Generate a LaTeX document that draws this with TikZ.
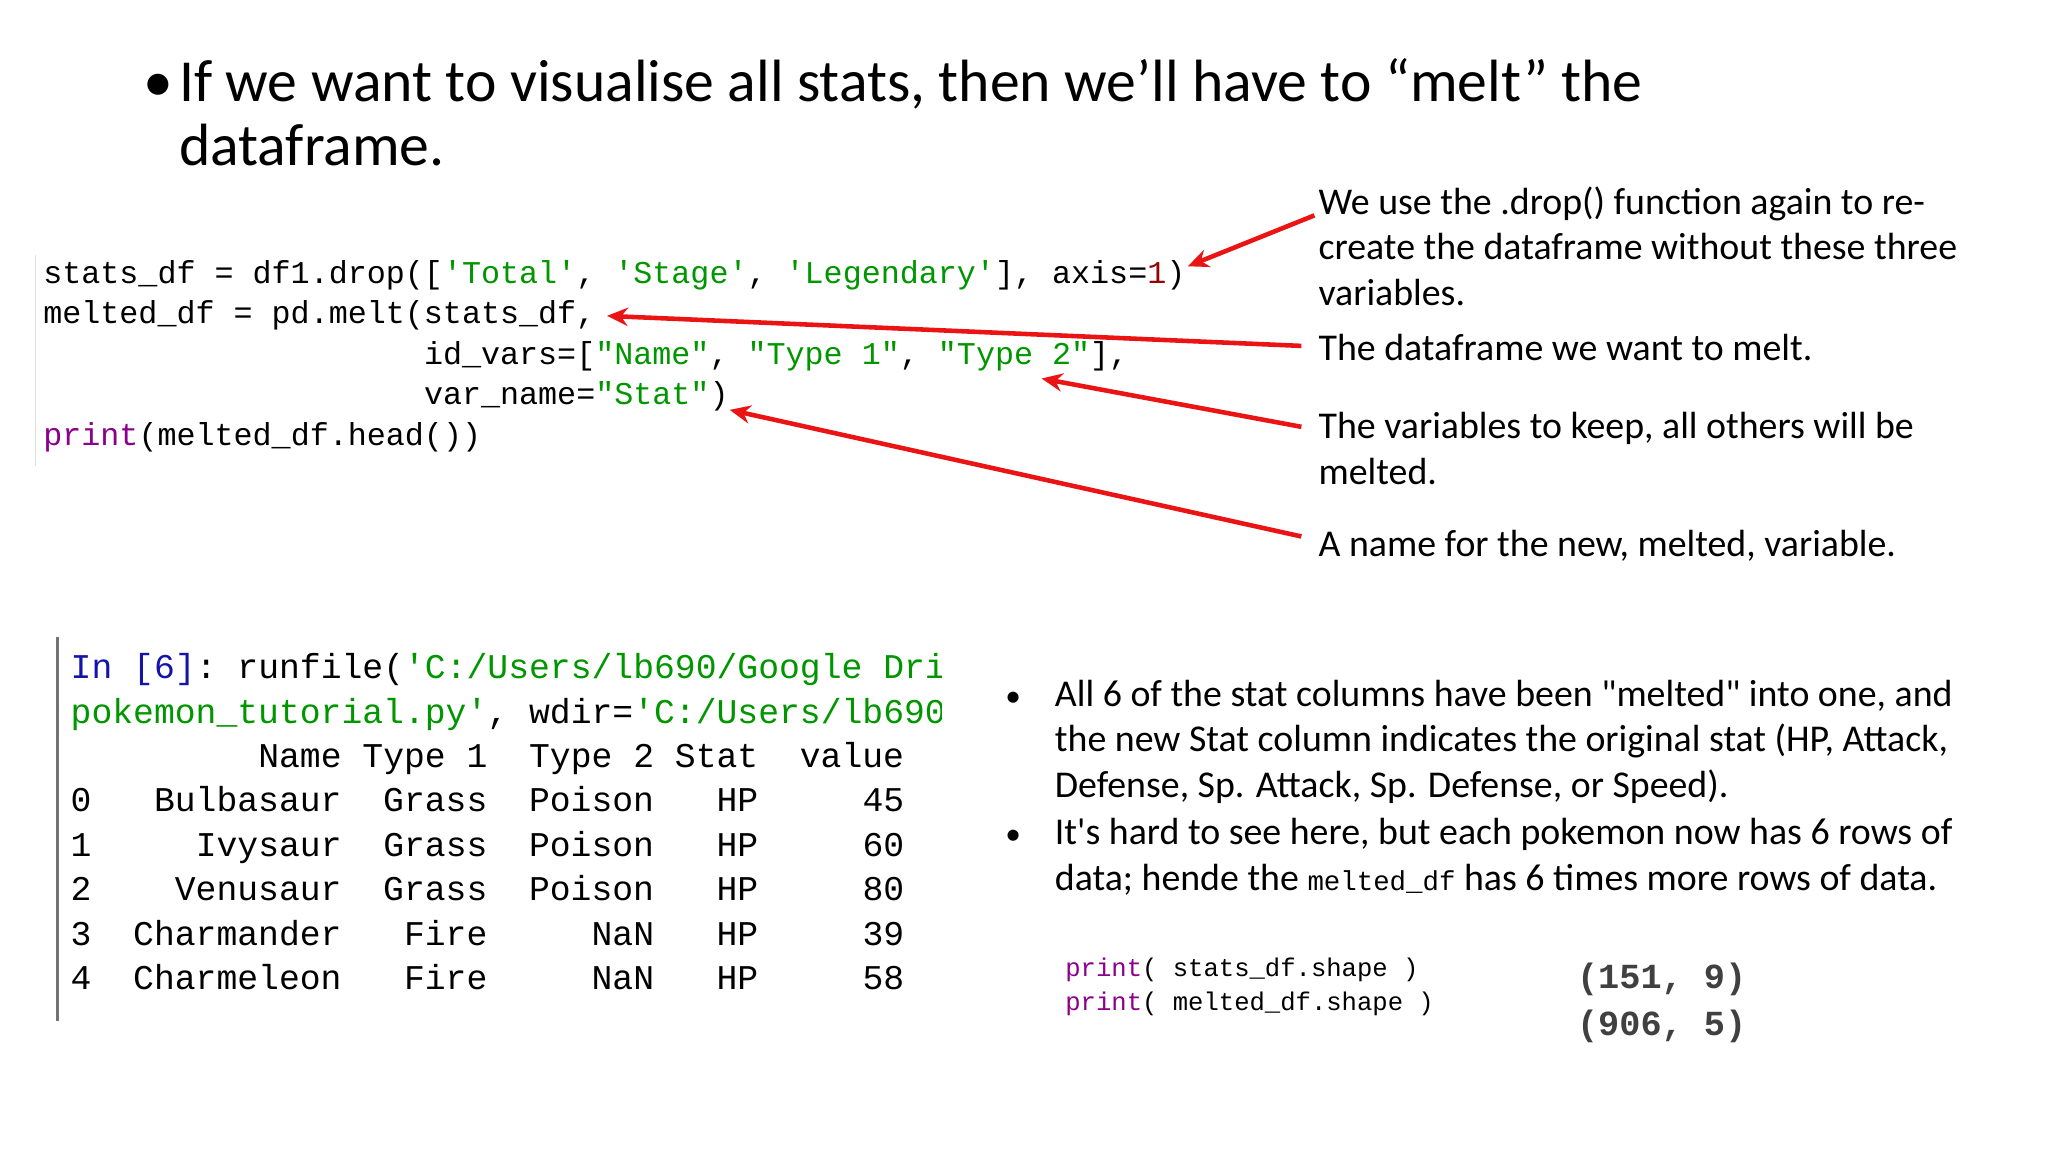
\documentclass[tikz,border=0pt]{standalone}
\usepackage{fontspec}
\setmainfont{Carlito}[Ligatures=TeXOff]
\setmonofont{Liberation Mono}
\usetikzlibrary{arrows.meta, positioning}
\definecolor{codegreen}{RGB}{0,150,0}
\definecolor{codepurple}{RGB}{140,0,140}
\definecolor{codered}{RGB}{150,0,0}
\definecolor{codeblue}{RGB}{20,20,170}
\definecolor{arrowred}{RGB}{235,20,20}
\newcommand{\gs}[1]{\textcolor{codegreen}{#1}}
\newcommand{\ps}[1]{\textcolor{codepurple}{#1}}
\begin{document}
\begin{tikzpicture}[
    x=1pt, y=-1pt,
    txt/.style = {anchor=base west, inner sep=0pt, font=\fontsize{29}{33}\selectfont},
    code/.style = {anchor=base west, inner sep=0pt, font=\ttfamily\fontsize{24.3}{28}\selectfont},
    tab/.style = {anchor=base west, inner sep=0pt, font=\ttfamily\fontsize{26.6}{30}\selectfont},
    pcode/.style = {anchor=base west, inner sep=0pt, font=\ttfamily\fontsize{19.6}{24}\selectfont},
    pil/.style = {arrowred, line width=3.5pt, -{Stealth[length=16pt, width=14pt]}}
    ]
  \useasboundingbox (0,0) rectangle (1569,883);

  % title
  \node[txt, font=\fontsize{45.7}{50}\selectfont] (dot) at (110,78) {\textbullet};
  \node[txt, font=\fontsize{45.7}{50}\selectfont] (title1) at (137,78) {If we want to visualise all stats, then we’ll have to “melt” the};
  \node[txt, font=\fontsize{45.7}{50}\selectfont] (title2) at (137,127) {dataframe.};

  % code
  \draw[black!12, line width=1pt] (27,195) -- (27,357);
  \node[code] (line1) at (33,217) {stats\_df = df1.drop([\gs{'Total'}, \gs{'Stage'}, \gs{'Legendary'}], axis=\textcolor{codered}{1})};
  \node[code] (line2) at (33,248) {melted\_df = pd.melt(stats\_df,};
  \node[code] (line3) at (33,279) {~~~~~~~~~~~~~~~~~~~~id\_vars=[\gs{"Name"}, \gs{"Type 1"}, \gs{"Type 2"}],};
  \node[code] (line4) at (33,310) {~~~~~~~~~~~~~~~~~~~~var\_name=\gs{"Stat"})};
  \node[code] (line5) at (33,341) {\ps{print}(melted\_df.head())};

  % notes
  \node[txt] (note1a) at (1010,164) {We use the .drop() function again to re-};
  \node[txt] (note1b) at (1010,199) {create the dataframe without these three};
  \node[txt] (note1c) at (1010,234) {variables.};
  \node[txt] (note2) at (1010,276) {The dataframe we want to melt.};
  \node[txt] (note3a) at (1010,336) {The variables to keep, all others will be};
  \node[txt] (note3b) at (1010,371) {melted.};
  \node[txt] (note4) at (1010,426) {A name for the new, melted, variable.};

  \coordinate (a1s) at (1007,165);
  \coordinate (a1e) at (910,204);
  \coordinate (a2s) at (997,265);
  \coordinate (a2e) at (465,242);
  \coordinate (a3s) at (997,327);
  \coordinate (a3e) at (798,290);
  \coordinate (a4s) at (997,411);
  \coordinate (a4e) at (559,314);
  \draw[pil] (a1s) -- (a1e);
  \draw[pil] (a2s) -- (a2e);
  \draw[pil] (a3s) -- (a3e);
  \draw[pil] (a4s) -- (a4e);

  % output
  \draw[black!55, line width=2pt] (44,488) -- (44,782);
  \begin{scope}
    \clip (44,480) rectangle (721,800);
    \node[tab] (out1) at (54,520) {\textcolor{codeblue}{In [6]}: runfile(\gs{'C:/Users/lb690/Google Dri}};
    \node[tab] (out2) at (54,554) {\gs{pokemon\_tutorial.py'}, wdir=\gs{'C:/Users/lb690}};
  \end{scope}
  \node[tab] (head) at (54,588) {~~~~~~~~~Name~Type~1~~Type~2~Stat~~value};
  \node[tab] (row0) at (54,622) {0~~~Bulbasaur~~Grass~~Poison~~~HP~~~~~45};
  \node[tab] (row1) at (54,656) {1~~~~~Ivysaur~~Grass~~Poison~~~HP~~~~~60};
  \node[tab] (row2) at (54,690) {2~~~~Venusaur~~Grass~~Poison~~~HP~~~~~80};
  \node[tab] (row3) at (54,724) {3~~Charmander~~~Fire~~~~~NaN~~~HP~~~~~39};
  \node[tab] (row4) at (54,758) {4~~Charmeleon~~~Fire~~~~~NaN~~~HP~~~~~58};

  % bullets
  \node[txt, font=\fontsize{24}{30}\selectfont] (b1) at (770,541) {\textbullet};
  \node[txt] (b1a) at (808,541) {All 6 of the stat columns have been "melted" into one, and};
  \node[txt] (b1b) at (808,576) {the new Stat column indicates the original stat (HP, Attack,};
  \node[txt] (b1c) at (808,611) {Defense, Sp. Attack, Sp. Defense, or Speed).};
  \node[txt, font=\fontsize{24}{30}\selectfont] (b2) at (770,647) {\textbullet};
  \node[txt] (b2a) at (808,647) {It's hard to see here, but each pokemon now has 6 rows of};
  \node[txt] (b2b) at (808,682) {data; hende the {\ttfamily\fontsize{21}{24}\selectfont melted\_df} has 6 times more rows of data.};

  \node[pcode] (shape1) at (816,748) {\ps{print}( stats\_df.shape )};
  \node[pcode] (shape2) at (816,774) {\ps{print}( melted\_df.shape )};
  \node[tab, font=\ttfamily\bfseries\fontsize{27}{30}\selectfont, text=black!75] (res1) at (1208,757) {(151, 9)};
  \node[tab, font=\ttfamily\bfseries\fontsize{27}{30}\selectfont, text=black!75] (res2) at (1208,793) {(906, 5)};
\end{tikzpicture}
\end{document}
